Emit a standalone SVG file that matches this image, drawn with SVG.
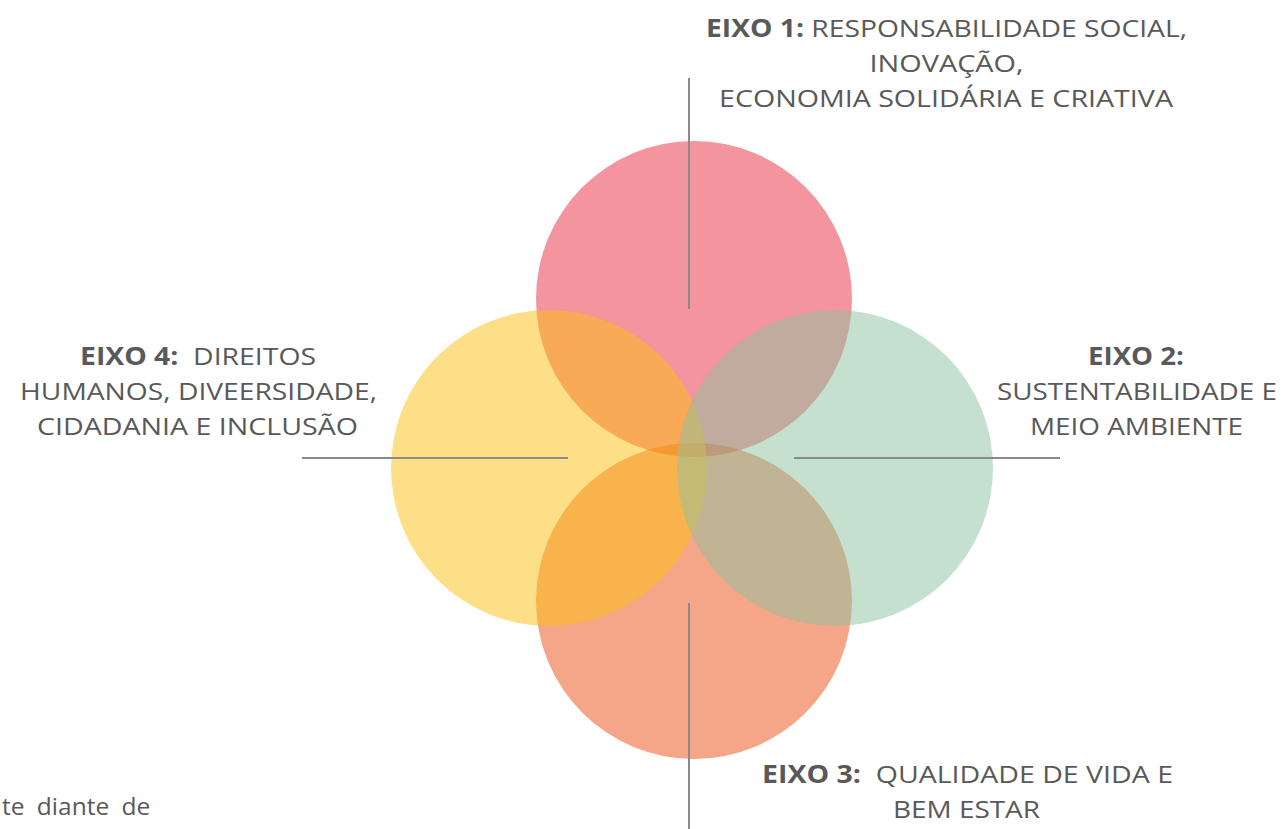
<svg xmlns="http://www.w3.org/2000/svg" width="1281" height="829" viewBox="0 0 1281 829">
<style>
.c{fill-opacity:0.5}
.ln{stroke:#8a8a8a;stroke-width:2;fill:none}
text{font-family:"Open Sans","Noto Sans",sans-serif;font-size:24.5px;fill:#595959;text-anchor:middle}
.b{font-weight:700}
</style>
<rect width="1281" height="829" fill="#ffffff"/>
<g id="circle-eixo1"><circle class="c" cx="694" cy="299" r="158" fill="#e9293f"/></g>
<g id="circle-eixo3"><circle class="c" cx="694" cy="601" r="158" fill="#eb4d11"/></g>
<g id="circle-eixo4"><circle class="c" cx="549" cy="468" r="158" fill="#fbbf0f"/></g>
<g id="circle-eixo2"><circle class="c" cx="835" cy="468" r="158" fill="#8dc19f"/></g>
<g id="connectors">
<line class="ln" x1="689" y1="78" x2="689" y2="309"/>
<line class="ln" x1="302" y1="458" x2="568" y2="458"/>
<line class="ln" x1="794" y1="458" x2="1060" y2="458"/>
<line class="ln" x1="689" y1="603" x2="689" y2="829"/>
</g>
<g id="label-eixo1">
<text x="946.5" y="37" textLength="481" lengthAdjust="spacingAndGlyphs"><tspan class="b">EIXO 1:</tspan> RESPONSABILIDADE SOCIAL,</text>
<text x="946.5" y="72" textLength="154" lengthAdjust="spacingAndGlyphs">INOVAÇÃO,</text>
<text x="946" y="107" textLength="454" lengthAdjust="spacingAndGlyphs">ECONOMIA SOLIDÁRIA E CRIATIVA</text>
</g>
<g id="label-eixo2">
<text x="1136" y="365" class="b" textLength="96" lengthAdjust="spacingAndGlyphs">EIXO 2:</text>
<text x="1137" y="400" textLength="280" lengthAdjust="spacingAndGlyphs">SUSTENTABILIDADE E</text>
<text x="1136.5" y="435" textLength="213" lengthAdjust="spacingAndGlyphs">MEIO AMBIENTE</text>
</g>
<g id="label-eixo3">
<text x="967.5" y="783" xml:space="preserve" textLength="411" lengthAdjust="spacingAndGlyphs"><tspan class="b">EIXO 3:</tspan>  QUALIDADE DE VIDA E</text>
<text x="966.5" y="818" textLength="147" lengthAdjust="spacingAndGlyphs">BEM ESTAR</text>
</g>
<g id="label-eixo4">
<text x="198" y="365" xml:space="preserve" textLength="236" lengthAdjust="spacingAndGlyphs"><tspan class="b">EIXO 4:</tspan>  DIREITOS</text>
<text x="198.5" y="400" textLength="357" lengthAdjust="spacingAndGlyphs">HUMANOS, DIVEERSIDADE,</text>
<text x="197.5" y="435" textLength="321" lengthAdjust="spacingAndGlyphs">CIDADANIA E INCLUSÃO</text>
</g>
<text x="2" y="815" style="text-anchor:start" word-spacing="6">te diante de</text>
</svg>
